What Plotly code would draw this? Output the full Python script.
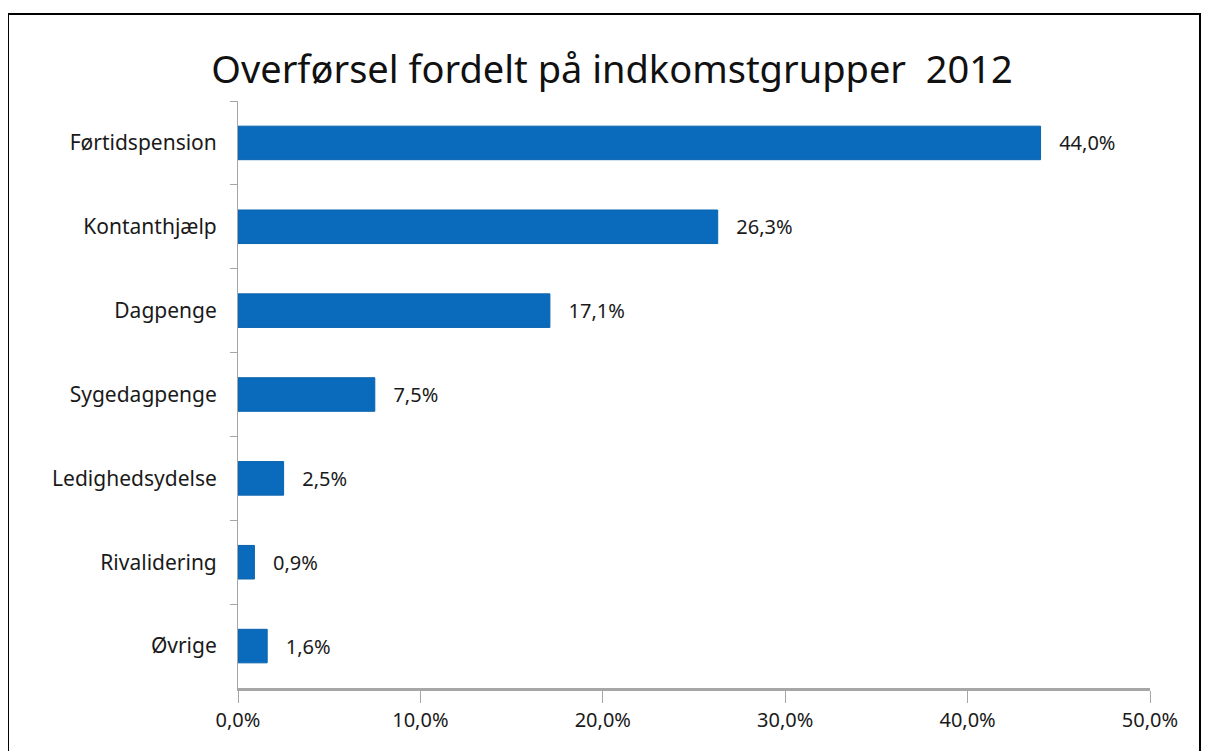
import plotly.graph_objects as go

categories = ["Førtidspension", "Kontanthjælp", "Dagpenge", "Sygedagpenge",
              "Ledighedsydelse", "Rivalidering", "Øvrige"]
values = [44.0, 26.3, 17.1, 7.5, 2.5, 0.9, 1.6]
x_ticks = [0, 10, 20, 30, 40, 50]
x_tick_labels = ["0,0%", "10,0%", "20,0%", "30,0%", "40,0%", "50,0%"]

labels = ["   " + f"{v:.1f}".replace(".", ",") + "%" for v in values]

FONT = "Noto Sans"

# browser body margin offsets the figure by 8px
L, T = 230, 93
R = 1209 - 1142
B = 751 - 680
PW, PH = 1142 - 230, 680 - 93

fig = go.Figure()
fig.add_trace(go.Bar(
    y=categories, x=values, orientation="h",
    marker=dict(color="#0A6BBD", line=dict(color="#0A63AE", width=1)),
    text=labels, textposition="outside", cliponaxis=False,
    textfont=dict(family=FONT, size=20, color="#1a1a1a"),
    hoverinfo="skip",
))

fig.update_layout(
    width=1209, height=751,
    paper_bgcolor="white", plot_bgcolor="white",
    margin=dict(l=L, r=R, t=T, b=B),
    bargap=0.6,
    showlegend=False,
    font=dict(family=FONT, color="#1a1a1a"),
    title=dict(text="Overførsel fordelt på indkomstgrupper  2012",
               x=(612 - 8) / 1209, xanchor="center", y=1 - (70 - 8) / 751, yanchor="middle",
               font=dict(family=FONT, size=38, color="#111111")),
    xaxis=dict(range=[0, 50], tickvals=x_ticks, ticktext=x_tick_labels,
               showgrid=False, zeroline=False,
               showline=True, linecolor="#a6a6a6", linewidth=3,
               ticks="outside", ticklen=12, tickcolor="#a6a6a6", tickwidth=1,
               tickfont=dict(family=FONT, size=20, color="#1a1a1a")),
    yaxis=dict(autorange="reversed", showgrid=False, zeroline=False,
               showline=True, linecolor="#a6a6a6", linewidth=1,
               ticks="outside", ticklen=7, tickcolor="#a6a6a6",
               tickson="boundaries", ticklabelstandoff=16,
               tickfont=dict(family=FONT, size=21, color="#1a1a1a")),
    shapes=[dict(type="rect", xref="paper", yref="paper",
                 x0=(8 - 8 - L) / PW, x1=(1200 - 8 - L) / PW,
                 y0=-0.3, y1=(680 - (14 - 8)) / PH,
                 line=dict(color="black", width=2), fillcolor="rgba(0,0,0,0)",
                 layer="below")],
)

fig.write_html("out.html")
